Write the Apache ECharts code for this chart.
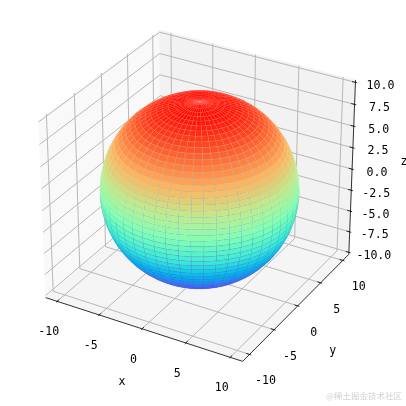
<!DOCTYPE html>
<html>
<head>
<meta charset="utf-8">
<style>html,body{margin:0;padding:0;background:#fff}#c{width:406px;height:406px}</style>
<script src="https://cdn.jsdelivr.net/npm/echarts@6/dist/echarts.min.js"></script>
</head>
<body>
<div id="c"></div>
<script>
// ---- values ----
const xTicks = [-10, -5, 0, 5, 10];
const yTicks = [-10, -5, 0, 5, 10];
const zTicks = [-10, -7.5, -5, -2.5, 0, 2.5, 5, 7.5, 10];
const xTickLabels = ['-10', '-5', '0', '5', '10'];
const yTickLabels = ['-10', '-5', '0', '5', '10'];
const zTickLabels = ['-10.0', '-7.5', '-5.0', '-2.5', '0.0', '2.5', '5.0', '7.5', '10.0'];
const xLimits = [-11.38, 11.38];
const yLimits = [-11.38, 11.38];
const zLimits = [-10.25, 10.25];
const sphereRadius = 10;
const polarDeg = [0,3.6,7.2,10.8,14.4,18,21.6,25.2,28.8,32.4,36,39.6,43.2,46.8,50.4,54,57.6,61.2,64.8,68.4,72,75.6,79.2,82.8,86.4,90,93.6,97.2,100.8,104.4,108,111.6,115.2,118.8,122.4,126,129.6,133.2,136.8,140.4,144,147.6,151.2,154.8,158.4,162,165.6,169.2,172.8,176.4,180];
const azimuthDeg = [0,7.2,14.4,21.6,28.8,36,43.2,50.4,57.6,64.8,72,79.2,86.4,93.6,100.8,108,115.2,122.4,129.6,136.8,144,151.2,158.4,165.6,172.8,180,187.2,194.4,201.6,208.8,216,223.2,230.4,237.6,244.8,252,259.2,266.4,273.6,280.8,288,295.2,302.4,309.6,316.8,324,331.2,338.4,345.6,352.8,360];
const colorStops = ['#8000ff','#4062fa','#00b5ec','#40ecd4','#80ffb4','#c0ec8e','#ffb562','#ff6232','#ff0000'];

// ---- view set-up ----
const ELEV = 30 * Math.PI / 180, AZIM = -60 * Math.PI / 180, DIST = 10;
const BOX_Z = 0.896;
const SCALE = 2268, CX = 199.6, CY = 189.6;
const w = [Math.cos(ELEV) * Math.cos(AZIM), Math.cos(ELEV) * Math.sin(AZIM), Math.sin(ELEV)];
const u = [-Math.sin(AZIM), Math.cos(AZIM), 0];
const v = [w[1]*u[2]-w[2]*u[1], w[2]*u[0]-w[0]*u[2], w[0]*u[1]-w[1]*u[0]];
function project(x, y, z) {
  const d = [(x - xLimits[0]) / (xLimits[1] - xLimits[0]) - 0.5,
             (y - yLimits[0]) / (yLimits[1] - yLimits[0]) - 0.5,
             BOX_Z * ((z - zLimits[0]) / (zLimits[1] - zLimits[0]) - 0.5)];
  const depth = DIST - (d[0]*w[0] + d[1]*w[1] + d[2]*w[2]);
  return [(d[0]*u[0] + d[1]*u[1]) / depth, (d[0]*v[0] + d[1]*v[1] + d[2]*v[2]) / depth, depth];
}
const [x0, x1] = xLimits, [y0, y1] = yLimits, [z0, z1] = zLimits;
const dx = (x1 - x0) / 12, dy = (y1 - y0) / 12;

// ---- panes ----
const panes = [
  {fill: '#f9f9f9', pts: [[x0,y0,z0],[x0,y1,z0],[x0,y1,z1],[x0,y0,z1]]},
  {fill: '#f2f2f2', pts: [[x0,y1,z0],[x1,y1,z0],[x1,y1,z1],[x0,y1,z1]]},
  {fill: '#f5f5f5', pts: [[x0,y0,z0],[x1,y0,z0],[x1,y1,z0],[x0,y1,z0]]}
];

// ---- segments ----
const seg = (a, b) => { const p = project(...a), q = project(...b); return [p[0], p[1], q[0], q[1]]; };
const gridRows = [];
xTicks.forEach(t => { gridRows.push(seg([t,y0,z0],[t,y1,z0]), seg([t,y1,z0],[t,y1,z1])); });
yTicks.forEach(t => { gridRows.push(seg([x1,t,z0],[x0,t,z0]), seg([x0,t,z0],[x0,t,z1])); });
zTicks.forEach(t => { gridRows.push(seg([x0,y0,t],[x0,y1,t]), seg([x0,y1,t],[x1,y1,t])); });
const axisRows = [seg([x0,y0,z0],[x1,y0,z0]), seg([x1,y0,z0],[x1,y1,z0]), seg([x1,y1,z0],[x1,y1,z1])];
xTicks.forEach(t => axisRows.push(seg([t,y0-0.1*dy,z0],[t,y0+0.2*dy,z0])));
yTicks.forEach(t => axisRows.push(seg([x1+0.1*dx,t,z0],[x1-0.2*dx,t,z0])));
zTicks.forEach(t => axisRows.push(seg([x1+0.1*dx,y1,t],[x1-0.2*dx,y1,t])));

// ---- labels ----
const textRows = [];
const addText = (txt, p, ox, oy) => { const q = project(...p); textRows.push([q[0], q[1], ox, oy, txt]); };
xTicks.forEach((t, i) => addText(xTickLabels[i], [t,y0,z0], -8.5, 31));
yTicks.forEach((t, i) => addText(yTickLabels[i], [x1,t,z0], 16, 27));
zTicks.forEach((t, i) => addText(zTickLabels[i], [x1,y1,t], 25 , 3.5));
addText('x', [0,y0,z0], -20, 53);
addText('y', [x1,0,z0], 35, 45);
addText('z', [x1,y1,0], 52, -7);

// ---- sphere facets ----
const spherePoint = (pi, ai) => {
  const p = polarDeg[pi] * Math.PI / 180, a = azimuthDeg[ai] * Math.PI / 180;
  return [sphereRadius * Math.sin(p) * Math.cos(a), sphereRadius * Math.sin(p) * Math.sin(a), sphereRadius * Math.cos(p)];
};
const sphereRows = [];
for (let i = 0; i < polarDeg.length - 1; i++) {
  for (let j = 0; j < azimuthDeg.length - 1; j++) {
    const c = [spherePoint(i,j), spherePoint(i,j+1), spherePoint(i+1,j+1), spherePoint(i+1,j)];
    const pr = c.map(q => project(...q));
    const mz = (c[0][2] + c[1][2] + c[2][2] + c[3][2]) / 4;
    const md = (pr[0][2] + pr[1][2] + pr[2][2] + pr[3][2]) / 4;
    sphereRows.push({value: [pr[0][0], pr[0][1], mz, pr[1][0], pr[1][1], pr[2][0], pr[2][1], pr[3][0], pr[3][1]], d: md});
  }
}
sphereRows.sort((a, b) => b.d - a.d);

// ---- chart ----
const chart = echarts.init(document.getElementById('c'), null, {renderer: 'canvas'});
const lineRender = (color, width) => (params, api) => {
  const a = api.coord([api.value(0), api.value(1)]), b = api.coord([api.value(2), api.value(3)]);
  return {type: 'line', silent: true, shape: {x1: a[0], y1: a[1], x2: b[0], y2: b[1]},
          style: {stroke: color, lineWidth: width, fill: null}};
};
chart.setOption({
  animation: false,
  backgroundColor: '#ffffff',
  grid: {left: 0, right: 0, top: 0, bottom: 0},
  xAxis: {type: 'value', show: false, min: -CX / SCALE, max: (406 - CX) / SCALE},
  yAxis: {type: 'value', show: false, min: (CY - 406) / SCALE, max: CY / SCALE},
  visualMap: {show: false, type: 'continuous', seriesIndex: 3, dimension: 2, min: -10, max: 10, inRange: {color: colorStops}},
  graphic: [{type: 'text', right: 4, top: 392, silent: true,
             style: {text: '@稀土掘金技术社区', font: '8.5px "Noto Sans CJK SC"', fill: '#d2d2d2'}}],
  series: [
    {type: 'custom', coordinateSystem: 'cartesian2d', silent: true, progressive: 0, z: 1,
     data: panes.map((p, i) => [i, 0]),
     renderItem: (params, api) => {
       const p = panes[params.dataIndex];
       const points = p.pts.map(q => { const r = project(...q); return api.coord([r[0], r[1]]); });
       return {type: 'polygon', shape: {points}, style: {fill: p.fill, stroke: p.fill, lineWidth: 0.8}};
     }},
    {type: 'custom', coordinateSystem: 'cartesian2d', silent: true, progressive: 0, z: 2,
     data: gridRows, renderItem: lineRender('#b8b8b8', 1)},
    {type: 'custom', coordinateSystem: 'cartesian2d', silent: true, progressive: 0, z: 4,
     data: axisRows, renderItem: lineRender('#000000', 0.8)},
    {type: 'custom', coordinateSystem: 'cartesian2d', silent: true, progressive: 0, z: 3,
     data: sphereRows,
     renderItem: (params, api) => {
       const points = [[api.value(0), api.value(1)], [api.value(3), api.value(4)], [api.value(5), api.value(6)], [api.value(7), api.value(8)]].map(q => api.coord(q));
       const upper = api.value(2) > 0;
       return {type: 'polygon', shape: {points}, style: {fill: api.visual('color'),
               stroke: upper ? 'rgba(255,255,255,0.14)' : 'rgba(70,110,130,0.14)', lineWidth: 0.4}};
     }},
    {type: 'custom', coordinateSystem: 'cartesian2d', silent: true, progressive: 0, z: 5,
     data: textRows.map(r => r.slice(0, 4)),
     renderItem: (params, api) => {
       const r = textRows[params.dataIndex];
       const c = api.coord([r[0], r[1]]);
       return {type: 'text', style: {text: r[4], x: c[0] + r[2], y: c[1] + r[3], fill: '#000',
               font: '11.6px "DejaVu Sans Mono"', align: 'center', verticalAlign: 'middle'}};
     }}
  ]
});
</script>
</body>
</html>
